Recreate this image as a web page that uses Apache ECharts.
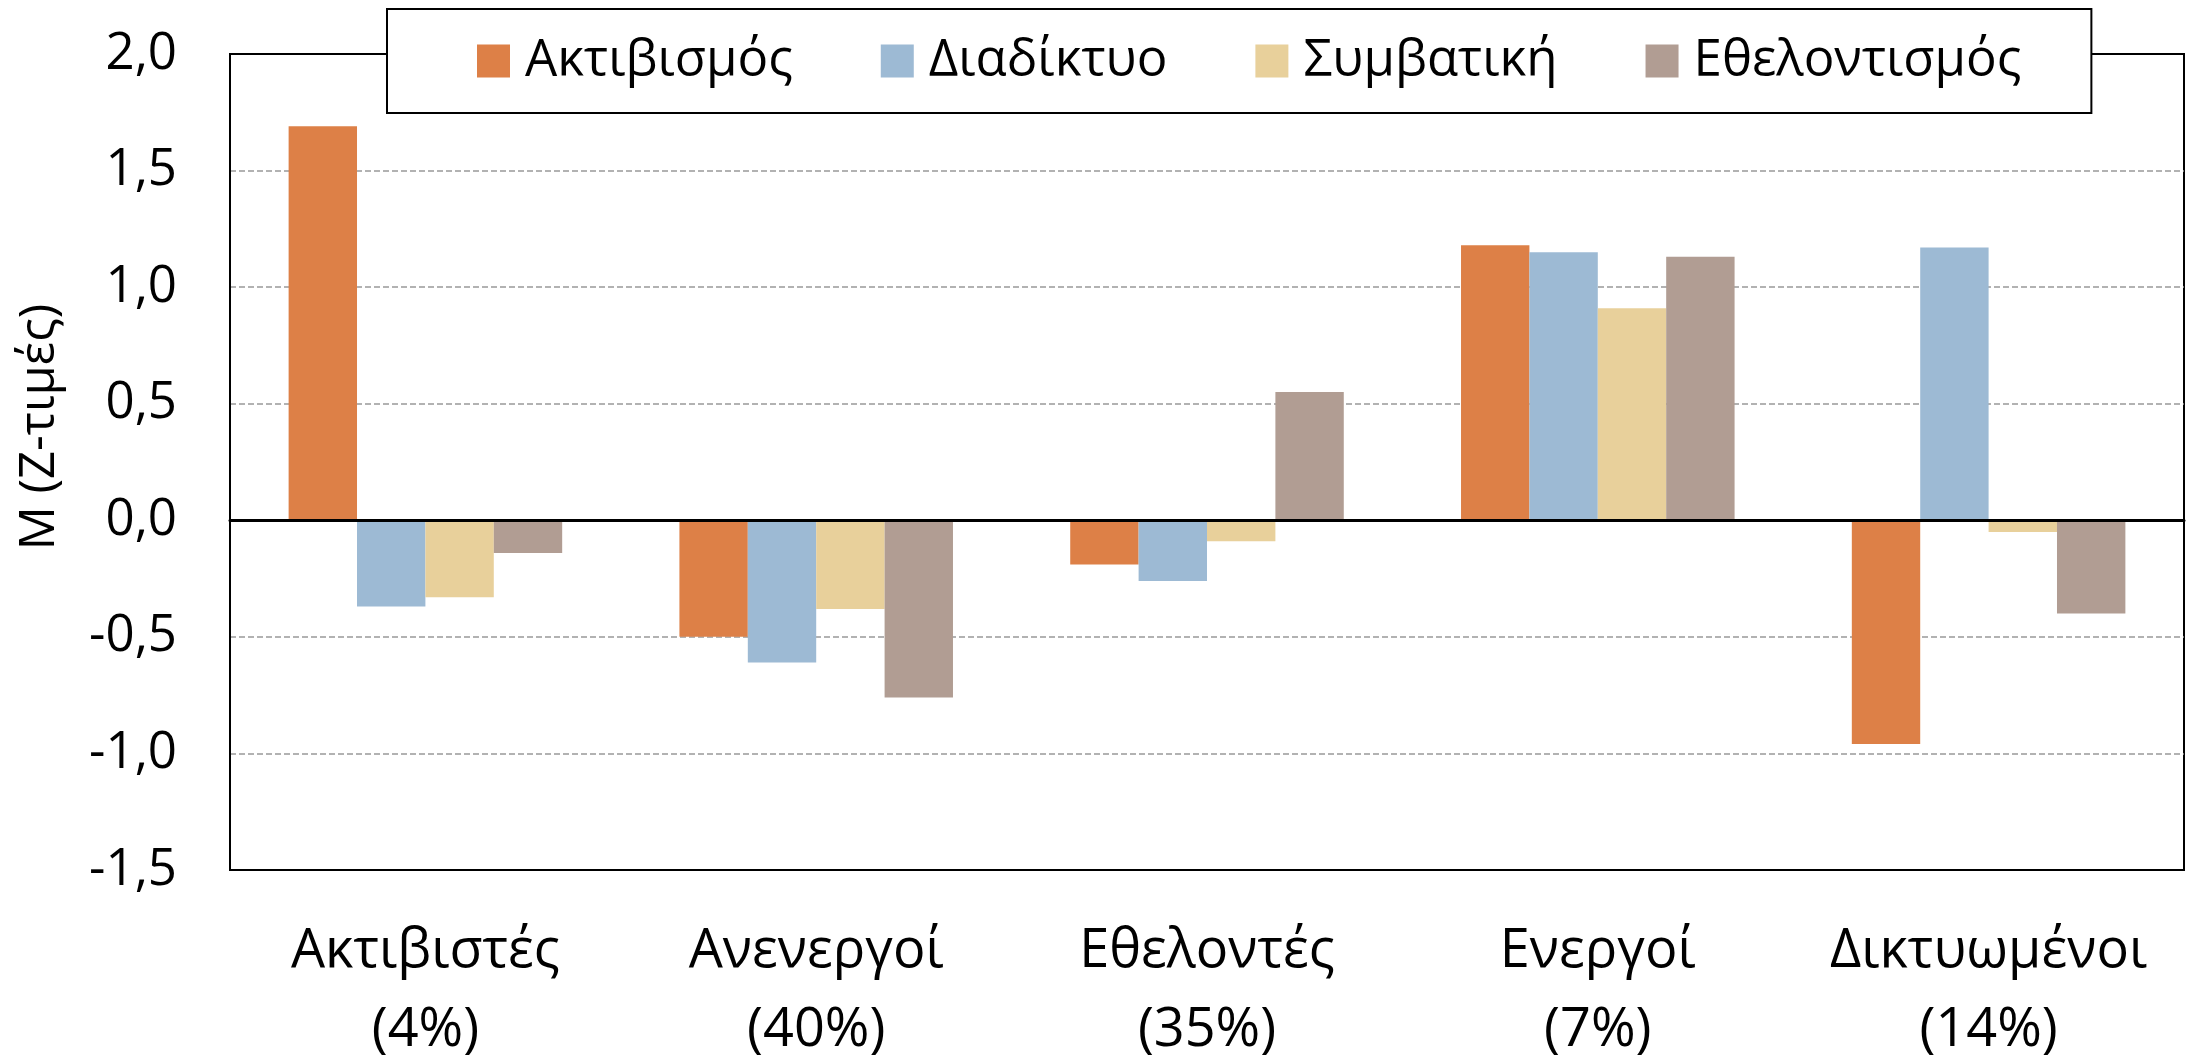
<!DOCTYPE html>
<html>
<head>
<meta charset="utf-8">
<script src="https://cdn.jsdelivr.net/npm/echarts@6/dist/echarts.min.js"></script>
<style>
  html, body { margin: 0; padding: 0; background: #fff; }
  #chart { width: 2201px; height: 1061px; }
</style>
</head>
<body>
<div id="chart"></div>
<script>
// ομάδες και ποσοστά
var groups = ['Ακτιβιστές', 'Ανενεργοί', 'Εθελοντές', 'Ενεργοί', 'Δικτυωμένοι'];
var shares = ['(4%)', '(40%)', '(35%)', '(7%)', '(14%)'];

// σειρές (Z-τιμές)
var seriesNames = ['Ακτιβισμός', 'Διαδίκτυο', 'Συμβατική', 'Εθελοντισμός'];
var aktivismos = [1.69, -0.50, -0.19, 1.18, -0.96];
var diadiktyo = [-0.37, -0.61, -0.26, 1.15, 1.17];
var symvatiki = [-0.33, -0.38, -0.09, 0.91, -0.05];
var ethelontismos = [-0.14, -0.76, 0.55, 1.13, -0.40];

var colors = ['#DD8047', '#9DBAD4', '#E8D09B', '#B19D93'];
var font = '"Open Sans", "Noto Sans", sans-serif';

var categories = groups.map(function (g, i) { return g + '\n' + shares[i]; });
var values = [aktivismos, diadiktyo, symvatiki, ethelontismos];

var chart = echarts.init(document.getElementById('chart'));

var option = {
    animation: false,
    color: colors,
    textStyle: { fontFamily: font, color: '#000' },
    grid: {
        left: 230,
        right: 17,
        top: 54,
        bottom: 191,
        show: true,
        borderColor: '#000',
        borderWidth: 2,
        containLabel: false,
        outerBoundsMode: 'none'
    },
    legend: {
        data: seriesNames,
        left: 387,
        top: 9,
        padding: [26, 70, 26, 90],
        itemWidth: 33,
        itemHeight: 33,
        itemGap: 88,
        icon: 'rect',
        backgroundColor: '#fff',
        borderColor: '#000',
        borderWidth: 2,
        borderRadius: 0,
        selectedMode: false,
        textStyle: {
            fontFamily: font,
            fontSize: 51,
            color: '#000',
            padding: [0, 0, 0, 10],
            lineHeight: 52
        }
    },
    xAxis: {
        type: 'category',
        data: categories,
        z: 5,
        axisLine: { onZero: true, lineStyle: { color: '#000', width: 3 } },
        axisTick: { show: false },
        axisLabel: {
            interval: 0,
            fontFamily: font,
            fontSize: 54,
            color: '#000',
            lineHeight: 79,
            margin: 42
        },
        splitLine: { show: false }
    },
    yAxis: {
        type: 'value',
        min: -1.5,
        max: 2.0,
        interval: 0.5,
        axisLine: { show: true, lineStyle: { color: '#000', width: 2 } },
        axisTick: { show: false },
        axisLabel: {
            fontFamily: font,
            fontSize: 51,
            color: '#000',
            margin: 53,
            formatter: function (v) { return v.toFixed(1).replace('.', ','); }
        },
        splitLine: {
            show: true,
            showMinLine: false,
            showMaxLine: false,
            lineStyle: { color: '#999', width: 1.5, type: [6, 3] }
        }
    },
    graphic: [{
        type: 'text',
        x: 40,
        y: 427,
        rotation: Math.PI / 2,
        style: {
            text: 'M (Z-τιμές)',
            fontFamily: font,
            fontSize: 49,
            fill: '#000',
            align: 'center',
            verticalAlign: 'middle'
        }
    }],
    series: seriesNames.map(function (name, i) {
        return {
            name: name,
            type: 'bar',
            data: values[i],
            barGap: '0%',
            barCategoryGap: '30%',
            itemStyle: { color: colors[i] }
        };
    })
};

chart.setOption(option);
</script>
</body>
</html>
